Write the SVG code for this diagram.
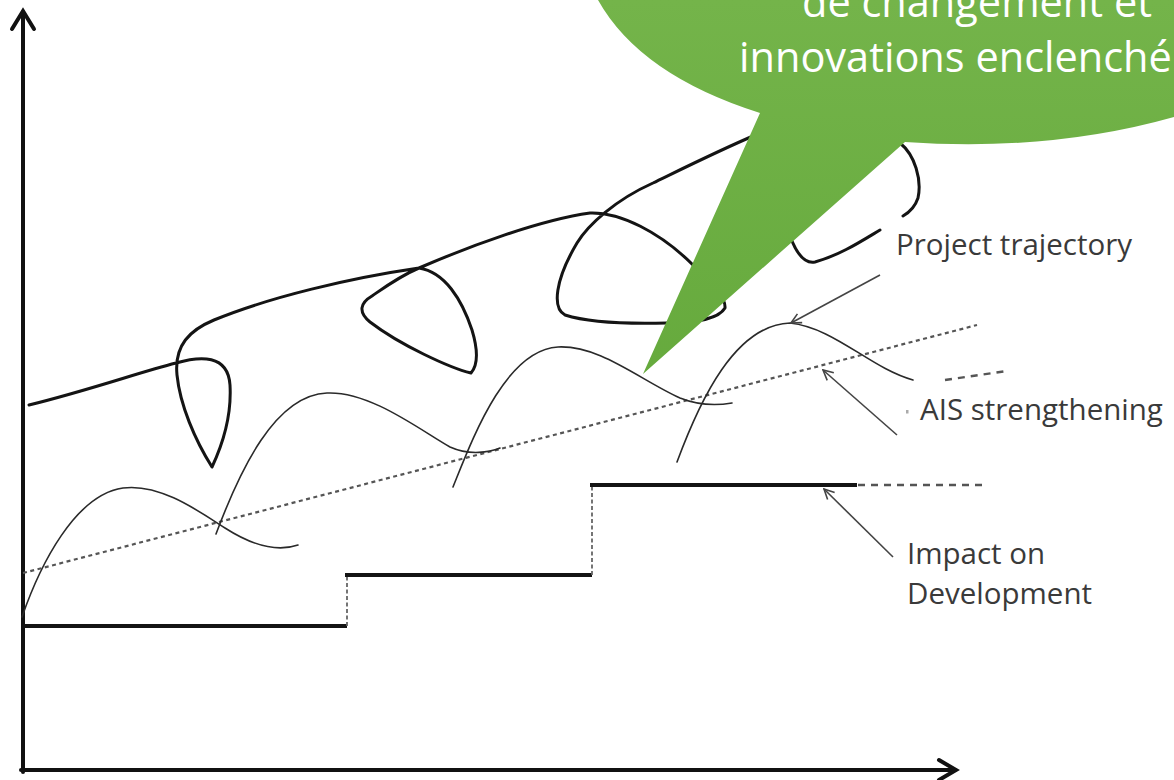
<svg xmlns="http://www.w3.org/2000/svg" width="1174" height="780" viewBox="0 0 1174 780">
  <style>
    .thick { fill: none; stroke: #141414; stroke-width: 3; stroke-linecap: round; stroke-linejoin: round; }
    .step { fill: none; stroke: #141414; stroke-width: 4; }
    .axis { fill: none; stroke: #111; stroke-width: 4; stroke-linecap: round; stroke-linejoin: miter; }
    .thin { fill: none; stroke: #2a2a2a; stroke-width: 1.6; stroke-linecap: round; }
    .dotted { fill: none; stroke: #555; stroke-width: 2.2; stroke-dasharray: 4 3.5; }
    .dash { fill: none; stroke: #555; stroke-width: 2.4; stroke-dasharray: 7 6; }
    .vdash { fill: none; stroke: #666; stroke-width: 1.8; stroke-dasharray: 4 2.5; }
    .pointer { fill: none; stroke: #444; stroke-width: 1.6; marker-end: url(#openArrow); }
    .label { font-family: "Open Sans", "Liberation Sans", sans-serif; font-size: 29.5px; fill: #3a3a3a; }
    .bubble-text { font-family: "Open Sans", "Liberation Sans", sans-serif; font-size: 41.5px; fill: #ffffff; }
  </style>
  <defs>
    <marker id="openArrow" viewBox="0 0 12 12" refX="11" refY="6" markerWidth="12" markerHeight="12" markerUnits="userSpaceOnUse" orient="auto">
      <path d="M1,1 L11,6 L1,11" fill="none" stroke="#444" stroke-width="1.6"/>
    </marker>
    <linearGradient id="green" x1="0" y1="0" x2="0" y2="375" gradientUnits="userSpaceOnUse">
      <stop offset="0" stop-color="#74b44a"/>
      <stop offset="1" stop-color="#66aa3d"/>
    </linearGradient>
  </defs>

  <rect width="1174" height="780" fill="#ffffff"/>

  <g id="axes">
    <path class="axis" d="M23,772 L23,12"/>
    <path class="axis" d="M12,29 L23,11 L34,29"/>
    <path class="axis" d="M21,770 L955,770"/>
    <path class="axis" d="M939,760 L956,770 L939,780"/>
  </g>

  <g id="impact-development">
    <path class="step" d="M23,626 L347,626"/>
    <path class="vdash" d="M347,626 L347,575"/>
    <path class="step" d="M345,575 L592,575"/>
    <path class="vdash" d="M592,575 L592,485"/>
    <path class="step" d="M590,485 L857,485"/>
    <path class="dash" d="M858,485 L985,485"/>
  </g>

  <g id="ais-strengthening">
    <path class="dotted" d="M23,573 L977,325"/>
    <path class="thin" d="M22,617 C40,565 75,495 123,488 C160,483 200,512 225,528 C250,544 275,553 298,545"/>
    <path class="thin" d="M216,534 C240,470 275,395 327,393 C370,391 420,430 450,447 C470,456 490,452 500,448"/>
    <path class="thin" d="M453,487 C472,440 505,350 558,347 C600,345 640,380 680,398 C700,406 720,405 732,403"/>
    <path class="thin" d="M677,462 C700,400 735,325 790,323 C835,328 870,368 913,380"/>
    <path class="dash" d="M945,380 L1007,371"/>
  </g>

  <g id="project-trajectory">
    <path class="thick" d="M29,405 C90,390 140,372 176,363 C200,356 228,354 230,385 C232,420 220,450 212,467 C195,440 180,405 177,375 C174,345 190,330 214,320 C270,297 350,278 419,268 C445,272 462,300 472,330 C478,350 478,365 471,373 C450,368 400,345 370,322 C358,312 360,303 372,296 C385,287 400,276 419,268 C470,246 540,220 590,213 C620,212 660,232 693,265 C710,282 726,296 725,308 C718,320 690,323 667,323 C630,324 590,323 565,315 C552,308 555,280 577,243 C588,225 615,200 653,183 C690,165 720,150 760,133 C800,118 880,120 900,143 C915,155 922,180 918,198 C915,207 910,212 903,216"/>
    <path class="thick" d="M880,230 C860,242 840,255 815,262 C805,264 797,255 790,236"/>
  </g>

  <g id="connectors">
    <path class="pointer" d="M880,275 L791,323"/>
    <path class="pointer" d="M897,435 L823,370"/>
    <path class="pointer" d="M893,557 L824,489"/>
  </g>

  <g id="label-project">
    <text class="label" x="896" y="255">Project trajectory</text>
  </g>
  <g id="label-ais">
    <rect x="906" y="410" width="2.5" height="3.5" fill="#aaa"/>
    <text class="label" x="920" y="420">AIS strengthening</text>
  </g>
  <g id="label-impact">
    <text class="label" x="907" y="564">Impact on</text>
    <text class="label" x="907" y="604">Development</text>
  </g>

  <g id="callout">
    <path d="M598,0 Q640,75 760,113 L643,374 L905,142 Q1050,152 1174,117 L1174,0 Z" fill="url(#green)"/>
    <text class="bubble-text" x="802" y="17">de changement et</text>
    <text class="bubble-text" x="739" y="72">innovations enclenché</text>
  </g>
</svg>
